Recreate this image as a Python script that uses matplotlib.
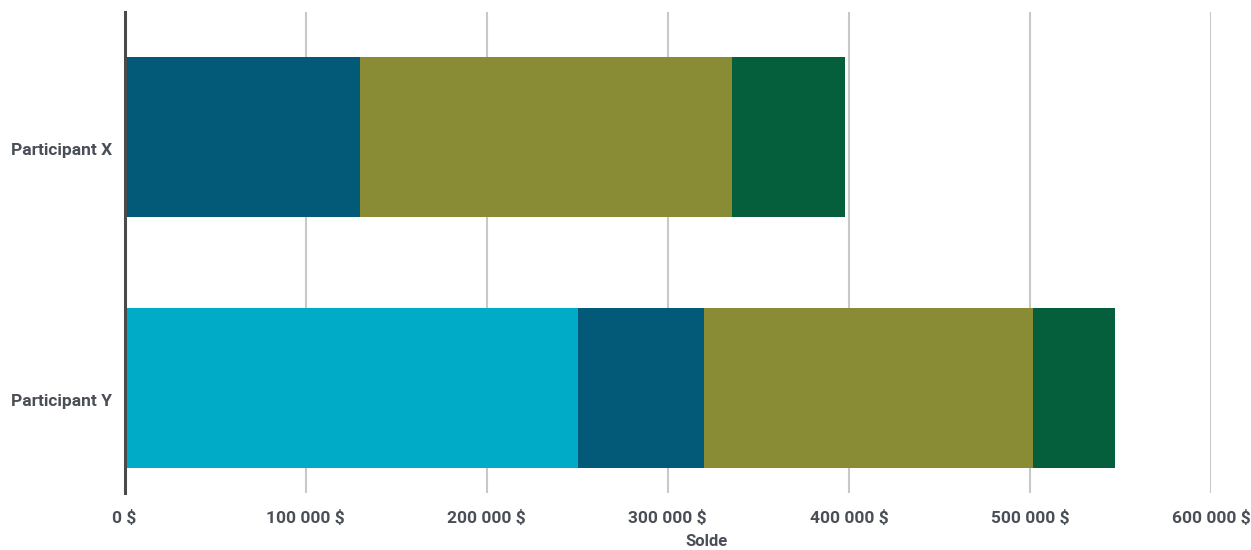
import matplotlib
matplotlib.use("Agg")
import matplotlib.pyplot as plt
import matplotlib.transforms as mtransforms
from matplotlib.ticker import FuncFormatter

categories = ["Participant Y", "Participant X"]
series_names = ["Série 1", "Série 2", "Série 3", "Série 4"]
s1 = [250500, 0]
s2 = [69500, 130000]
s3 = [181500, 205500]
s4 = [45700, 62500]
colors = ["#00ABC8", "#025A78", "#8A8C35", "#055E3C"]
xticks = [0, 100000, 200000, 300000, 400000, 500000, 600000]

plt.rcParams['font.family'] = ['Roboto', 'DejaVu Sans']

fig = plt.figure(figsize=(12.51, 5.5), dpi=100)
ax = fig.add_axes([124.5 / 1251, (550 - 493) / 550, (1211 - 124.5) / 1251, (493 - 12) / 550])

ypos = list(range(len(categories)))
left = [0] * len(categories)
for name, vals, c in zip(series_names, [s1, s2, s3, s4], colors):
    ax.barh(ypos, vals, left=left, height=0.64, color=c, label=name, zorder=3)
    left = [l + v for l, v in zip(left, vals)]

ax.set_xlim(0, 600000)
ax.set_ylim(-0.42, 1.5)
ax.set_xticks(xticks)
ax.xaxis.set_major_formatter(FuncFormatter(lambda v, p: f"{int(v):,}".replace(",", " ") + " $"))
ax.set_yticks(ypos)
ax.set_yticklabels(categories)
ax.grid(axis='x', color='#c8c8c8', linewidth=1.5, zorder=0)
for s in ['top', 'right', 'bottom']:
    ax.spines[s].set_visible(False)
ax.spines['left'].set_color('#4a4a4a')
ax.spines['left'].set_linewidth(2.2)
ax.spines['left'].set_zorder(4)
ax.tick_params(axis='x', length=0, labelcolor='#4a4f57', labelsize=12.5, pad=12)
ax.tick_params(axis='y', length=0, labelcolor='#4a4f57', labelsize=12.5, pad=9)
for lab in ax.get_xticklabels() + ax.get_yticklabels():
    lab.set_fontweight('bold')
offset = mtransforms.ScaledTranslation(0, -12 / 100, fig.dpi_scale_trans)
for lab in ax.get_yticklabels():
    lab.set_transform(lab.get_transform() + offset)

fig.text(706 / 1251, 1 - 542 / 550, "Solde", ha='center', va='center',
         fontsize=12, fontweight='bold', color='#4a4f57')

fig.savefig("out.png", dpi=100)
